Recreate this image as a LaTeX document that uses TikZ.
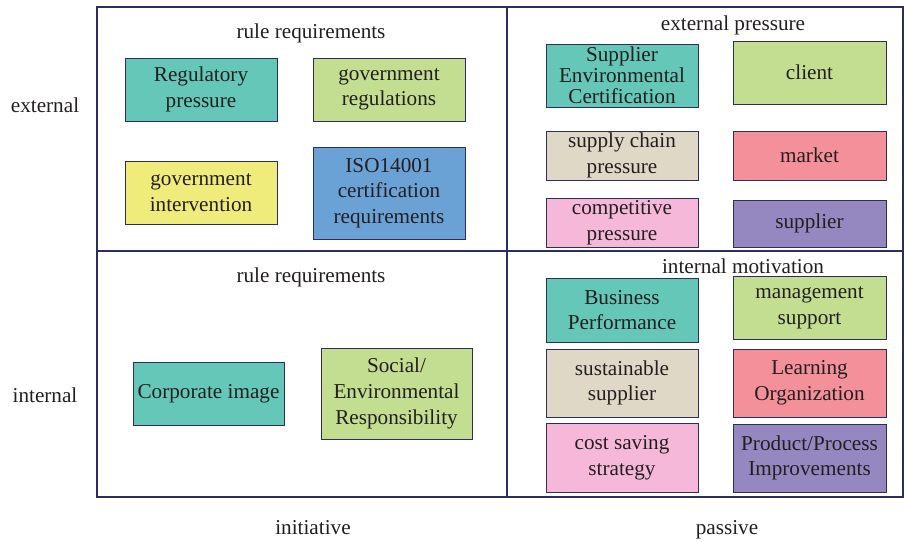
\documentclass[tikz,border=0pt]{standalone}
\usepackage{fontspec}
\setmainfont{Liberation Serif}
\definecolor{frame}{HTML}{2C2F5E}
\definecolor{ink}{HTML}{231F20}
\definecolor{cteal}{HTML}{64C7B8}
\definecolor{cgreen}{HTML}{C3DE90}
\definecolor{cyellow}{HTML}{F0EC7C}
\definecolor{cblue}{HTML}{6BA2D6}
\definecolor{cbeige}{HTML}{E0D8C6}
\definecolor{cred}{HTML}{F4909A}
\definecolor{cpink}{HTML}{F5B8D8}
\definecolor{cpurple}{HTML}{9587C0}
\tikzset{
  quadline/.style={draw=frame, line width=1.6pt},
  box/.style={draw=frame, line width=0.9pt, rectangle, inner sep=0pt, align=center,
    text=ink, font=\fontsize{21.2}{25.6}\selectfont},
  lbl/.style={text=ink, inner sep=0pt, anchor=base, font=\fontsize{21.2}{25.6}\selectfont},
}
\begin{document}
\begin{tikzpicture}[x=1pt,y=-1pt]
\useasboundingbox (0,0) rectangle (904,541);
\fill[white] (0,0) rectangle (904,541);
% frame
\draw[quadline] (97,7) rectangle (903,497);
\draw[quadline] (507,7) -- (507,497);
\draw[quadline] (97,251) -- (903,251);
% axis labels
\node[lbl] (ext) at (45,112) {external};
\node[lbl] (int) at (45,402) {internal};
\node[lbl] (ini) at (313,534) {initiative};
\node[lbl] (pas) at (727,534) {passive};
% quadrant titles
\node[lbl] (t1) at (311,38) {rule requirements};
\node[lbl] (t2) at (733,30) {external pressure};
\node[lbl] (t3) at (311,282) {rule requirements};
\node[lbl] (t4) at (743,273) {internal motivation};
% top-left
\node[box, fill=cteal, minimum width=152pt, minimum height=63pt] (reg) at (201,89.5) {Regulatory\\pressure};
\node[box, fill=cgreen, minimum width=152pt, minimum height=63pt] (govreg) at (389,89.5) {government\\regulations};
\node[box, fill=cyellow, minimum width=152pt, minimum height=63pt] (govint) at (201,192.5) {government\\intervention};
\node[box, fill=cblue, minimum width=152pt, minimum height=92pt] (iso) at (389,193) {ISO14001\\certification\\requirements};
% top-right
\node[box, fill=cteal, minimum width=152pt, minimum height=63pt, font=\fontsize{21.2}{21}\selectfont] (sec) at (622,75.5) {Supplier\\Environmental\\Certification};
\node[box, fill=cgreen, minimum width=153pt, minimum height=63pt] (client) at (809.5,72.5) {client};
\node[box, fill=cbeige, minimum width=152pt, minimum height=49pt] (scp) at (622,155.5) {supply chain\\pressure};
\node[box, fill=cred, minimum width=153pt, minimum height=49pt] (market) at (809.5,155.5) {market};
\node[box, fill=cpink, minimum width=152pt, minimum height=49pt] (comp) at (622,222.5) {competitive\\pressure};
\node[box, fill=cpurple, minimum width=153pt, minimum height=47pt] (supp) at (809.5,223.5) {supplier};
% bottom-right
\node[box, fill=cteal, minimum width=152pt, minimum height=64pt] (bp) at (622,310) {Business\\Performance};
\node[box, fill=cgreen, minimum width=153pt, minimum height=63pt] (ms) at (809.5,307.5) {management\\support};
\node[box, fill=cbeige, minimum width=152pt, minimum height=68pt] (ss) at (622,383) {sustainable\\supplier};
\node[box, fill=cred, minimum width=153pt, minimum height=68pt] (lo) at (809.5,383) {Learning\\Organization};
\node[box, fill=cpink, minimum width=152pt, minimum height=69pt] (css) at (622,457.5) {cost saving\\strategy};
\node[box, fill=cpurple, minimum width=153pt, minimum height=68pt] (pp) at (809.5,458) {Product/Process\\Improvements};
% bottom-left
\node[box, fill=cteal, minimum width=151pt, minimum height=63pt] (ci) at (208.5,393.5) {Corporate image};
\node[box, fill=cgreen, minimum width=151pt, minimum height=91pt] (ser) at (396.5,393.5) {Social/\\Environmental\\Responsibility};
\end{tikzpicture}
\end{document}
